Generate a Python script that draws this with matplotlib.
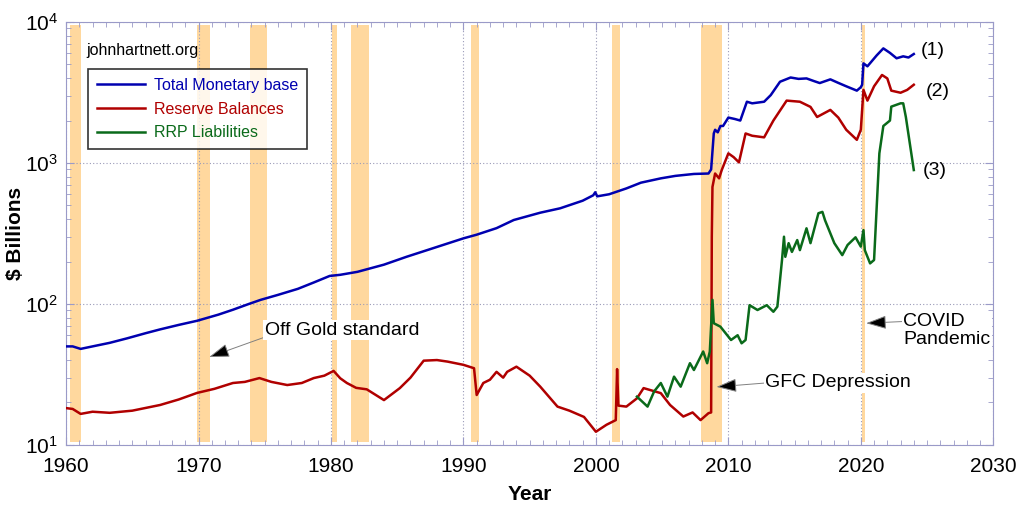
import numpy as np
import matplotlib
matplotlib.use("Agg")
import matplotlib.pyplot as plt
from matplotlib.ticker import MultipleLocator, LogLocator, NullFormatter

plt.rcParams['font.family'] = ['Liberation Sans', 'DejaVu Sans']
plt.rcParams['mathtext.fontset'] = 'custom'
plt.rcParams['mathtext.rm'] = 'Liberation Sans'

# Total monetary base ($ billions)
tmb_years = [1959.9, 1960.5, 1961.1, 1962, 1963.3, 1964.6, 1966, 1967.1, 1968.5, 1969.9,
             1971.5, 1972.6, 1973.8, 1974.7, 1976, 1977.5, 1978.7, 1979.9, 1980.7, 1982,
             1984, 1985.7, 1987.5, 1990.0, 1991, 1992.5, 1993.8, 1995.8, 1997.3, 1999.0,
             1999.8, 1999.95, 2000.1, 2001, 2002.3, 2003.4, 2004.9, 2006, 2007.4, 2008.5,
             2008.7, 2008.9, 2009.0, 2009.2, 2009.4, 2009.6, 2010.0, 2010.5, 2010.9, 2011.4,
             2011.8, 2012.7, 2013.2, 2013.9, 2014.7, 2015.3, 2015.9, 2016.5, 2016.9, 2017.7,
             2018.3, 2018.9, 2019.7, 2020.0, 2020.1, 2020.2, 2020.5, 2021.2, 2021.7, 2022.2,
             2022.7, 2023.2, 2023.6, 2024.0]
tmb_vals = [50, 50, 48, 50, 53, 57, 62, 66, 71, 76,
            84, 91, 100, 107, 116, 128, 142, 158, 161, 169,
            190, 216, 245, 292, 310, 345, 394, 444, 477, 540,
            590, 620, 580, 600, 660, 725, 778, 810, 836, 842,
            900, 1620, 1720, 1650, 1830, 1830, 2100, 2050, 2000, 2720,
            2650, 2720, 3030, 3770, 4040, 3950, 3980, 3800, 3690, 3920,
            3700, 3500, 3260, 3450, 3590, 5090, 4850, 5800, 6500, 6040,
            5530, 5710, 5600, 5930]

# Reserve balances ($ billions)
res_years = [1959.9, 1960.5, 1961.1, 1962, 1963.3, 1965, 1967.1, 1968.5, 1969.9, 1971.2,
             1972.6, 1973.5, 1974.6, 1975.5, 1976.7, 1977.8, 1978.7, 1979.5, 1980.2, 1980.7,
             1981.2, 1981.9, 1982.7, 1984.0, 1985.2, 1986, 1987.0, 1988, 1988.8, 1990,
             1990.8, 1991.0, 1991.5, 1992.0, 1992.5, 1993.0, 1993.3, 1994.0, 1995.0, 1995.8,
             1997.1, 1998, 1999.1, 2000.0, 2000.8, 2001.5, 2001.6, 2001.7, 2002.3, 2003.1,
             2003.6, 2004.9, 2005.6, 2006.6, 2007.3, 2007.9, 2008.5, 2008.7, 2008.75, 2008.8,
             2009.0, 2009.3, 2009.5, 2010.0, 2010.4, 2010.8, 2011.3, 2011.8, 2012.7, 2013.4,
             2014.4, 2015.4, 2016.2, 2016.7, 2017.7, 2018.3, 2018.9, 2019.7, 2020.0, 2020.2,
             2020.5, 2021.0, 2021.6, 2022.0, 2022.3, 2023.0, 2023.5, 2024.0]
res_vals = [18.3, 18, 16.6, 17.2, 16.9, 17.5, 19.2, 21, 23.4, 25,
            27.5, 28, 29.8, 28, 26.6, 27.5, 29.8, 31, 33.5, 29.7,
            27.5, 25.4, 24.8, 20.8, 25.3, 30, 39.6, 40, 39, 37,
            35, 22.6, 27.5, 29, 33, 30, 33, 35.9, 31, 25.9,
            18.7, 17.5, 15.8, 12.4, 13.9, 15, 34.5, 19, 18.7, 21.4,
            25.3, 23.3, 19.2, 15.9, 17, 15, 16.8, 17, 300, 676,
            842, 778, 891, 1170, 1100, 1010, 1620, 1560, 1520, 2000,
            2770, 2720, 2500, 2120, 2380, 2100, 1720, 1460, 1720, 3300,
            2770, 3500, 4210, 3980, 3260, 3150, 3300, 3590]

# RRP liabilities ($ billions)
rrp_years = [2003.1, 2003.9, 2004.4, 2004.9, 2005.4, 2005.9, 2006.4, 2007.1, 2007.4, 2008.1,
             2008.4, 2008.6, 2008.8, 2008.9, 2009.4, 2010.2, 2010.7, 2011.0, 2011.3, 2011.6,
             2012.2, 2012.9, 2013.4, 2013.7, 2014.05, 2014.2, 2014.3, 2014.55, 2014.8, 2015.2,
             2015.4, 2015.9, 2016.2, 2016.8, 2017.1, 2017.3, 2018.0, 2018.6, 2019.0, 2019.6,
             2020.0, 2020.2, 2020.3, 2020.7, 2021.0, 2021.4, 2021.7, 2022.2, 2022.3, 2023.0,
             2023.2, 2023.4, 2024.0]
rrp_vals = [22, 18.7, 24, 27.5, 22, 30.5, 25.9, 38, 34, 46,
            38, 46, 107, 73, 69, 55.5, 60, 52.6, 55.5, 98,
            90.6, 98, 88, 95.7, 205, 300, 216, 270, 234, 284,
            241, 344, 270, 440, 450, 392, 270, 222, 262, 297,
            255, 334, 241, 194, 205, 1170, 1830, 2000, 2510, 2650,
            2650, 2120, 891]

# US recessions (start, end)
rec_start = [1960.3, 1969.9, 1973.85, 1980.05, 1981.5, 1990.55, 2001.2, 2007.9, 2020.1]
rec_end = [1961.15, 1970.85, 1975.2, 1980.45, 1982.85, 1991.2, 2001.85, 2009.5, 2020.35]

fig = plt.figure(figsize=(10.24, 5.12), dpi=100)
ax = fig.add_axes([0.0645, 0.131, 0.9055, 0.826])

for s, e in zip(rec_start, rec_end):
    ax.axvspan(s, e, ymin=0.008, ymax=0.993, color='#FFD89E', lw=0, zorder=1)

ax.plot(tmb_years, tmb_vals, color='#0000B0', lw=1.8, zorder=4, label='Total Monetary base')
ax.plot(res_years, res_vals, color='#B00000', lw=1.8, zorder=4, label='Reserve Balances')
ax.plot(rrp_years, rrp_vals, color='#0A6A1A', lw=1.8, zorder=4, label='RRP Liabilities')

ax.set_yscale('log')
ax.set_xlim(1960, 2030)
ax.set_ylim(10, 10000)
ax.xaxis.set_major_locator(MultipleLocator(10))
ax.xaxis.set_minor_locator(MultipleLocator(1))
ax.yaxis.set_major_locator(LogLocator(base=10))
ax.yaxis.set_minor_locator(LogLocator(base=10, subs=np.arange(2, 10)))
ax.yaxis.set_minor_formatter(NullFormatter())
ax.grid(True, which='major', color='#9A9AB8', ls=(0, (1, 2)), lw=0.8, zorder=2)
ax.tick_params(which='both', direction='in', top=True, right=True, colors='#9A9AC8',
               labelcolor='black', labelsize=15)
ax.tick_params(which='major', length=6)
ax.tick_params(which='minor', length=3.5)
ax.tick_params(axis='x', which='major', pad=9)
ax.tick_params(axis='y', which='major', pad=6)
for sp in ax.spines.values():
    sp.set_color('#9A9AC8')

ax.set_xlabel('Year', fontsize=15, fontweight='bold', labelpad=6)
ax.set_ylabel('$ Billions', fontsize=15, fontweight='bold', labelpad=0)

ax.text(1961.5, 6330, 'johnhartnett.org', fontsize=11.5, va='center', zorder=6)

leg = ax.legend(loc='upper left', bbox_to_anchor=(0.0237, 0.889), fontsize=11.5, frameon=True,
                fancybox=False, edgecolor='black', handlelength=3.0, handletextpad=0.6,
                borderpad=0.55, labelspacing=0.55, borderaxespad=0)
leg.get_frame().set_linewidth(1.2)
for txt, ln in zip(leg.get_texts(), leg.get_lines()):
    txt.set_color(ln.get_color())
leg.set_zorder(7)

box = dict(facecolor='white', edgecolor='none', pad=1)
notes = [
    ('Off Gold standard', (1970.8, 42), (1975.0, 65), (0.0, 0.1)),
    ('GFC Depression', (2009.1, 25.8), (2012.8, 27.5), (0.0, 0.5)),
    ('COVID\nPandemic', (2020.4, 73), (2023.2, 65), (0.0, 0.75)),
]
for label, tip, pos, rel in notes:
    arrow = dict(arrowstyle='-|>,head_length=0.9,head_width=0.3', facecolor='black',
                 edgecolor='#808080', lw=0.7, shrinkA=0, shrinkB=0, relpos=rel)
    a = ax.annotate(label, xy=tip, xytext=pos, fontsize=14, va='center', bbox=box,
                    arrowprops=arrow, zorder=6, linespacing=1.1)
    a.arrow_patch.set_zorder(6)

ax.text(2024.5, 6300, '(1)', fontsize=14, va='center', zorder=6)
ax.text(2024.9, 3240, '(2)', fontsize=14, va='center', zorder=6)
ax.text(2024.7, 890, '(3)', fontsize=14, va='center', zorder=6)

fig.savefig('out.png', dpi=100)
